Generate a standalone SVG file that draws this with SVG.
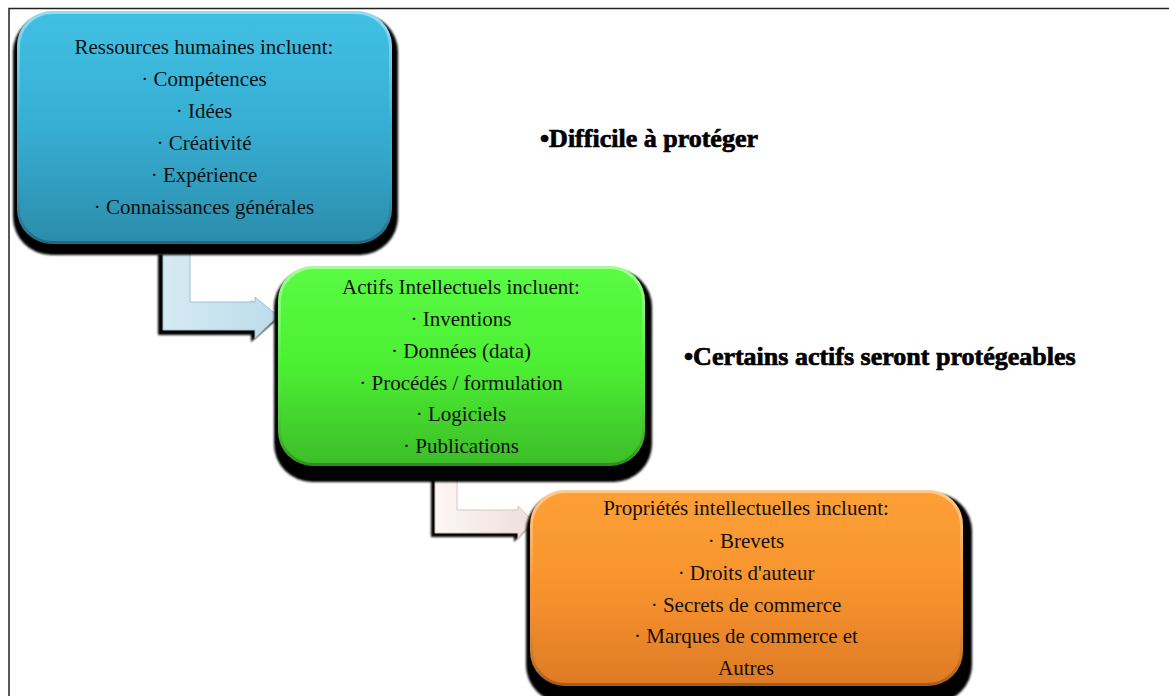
<svg xmlns="http://www.w3.org/2000/svg" width="1169" height="696" viewBox="0 0 1169 696">
<style>
.t{font-family:"Liberation Serif","Times New Roman",serif;font-size:21px;fill:#111;text-anchor:middle}
.b{font-family:"Liberation Serif","Times New Roman",serif;font-size:26px;font-weight:bold;fill:#000;stroke:#000;stroke-width:0.7}
.sh{fill:#000;filter:url(#blur)}
</style>
<defs>
<filter id="blur" x="-5%" y="-5%" width="110%" height="110%"><feGaussianBlur stdDeviation="1.2"/></filter>
<linearGradient id="gBlue" x1="0" y1="0" x2="0" y2="1"><stop offset="0" stop-color="#41c0e4"/><stop offset="0.5" stop-color="#37aed3"/><stop offset="1" stop-color="#2b8cab"/></linearGradient>
<linearGradient id="gGreen" x1="0" y1="0" x2="0" y2="1"><stop offset="0" stop-color="#5afb44"/><stop offset="0.5" stop-color="#4cef33"/><stop offset="1" stop-color="#3cbd28"/></linearGradient>
<linearGradient id="gOrange" x1="0" y1="0" x2="0" y2="1"><stop offset="0" stop-color="#fda036"/><stop offset="0.5" stop-color="#f7932e"/><stop offset="1" stop-color="#de7a24"/></linearGradient>
<linearGradient id="gEdge" x1="0" y1="0" x2="0" y2="1"><stop offset="0" stop-color="#fff" stop-opacity="0.45"/><stop offset="0.5" stop-color="#fff" stop-opacity="0"/><stop offset="1" stop-color="#000" stop-opacity="0.25"/></linearGradient>
<linearGradient id="gArrow1" x1="0" y1="0" x2="1" y2="0"><stop offset="0" stop-color="#d6ebf3"/><stop offset="1" stop-color="#bcdcea"/></linearGradient>
<linearGradient id="gArrow2" x1="0" y1="0" x2="1" y2="0"><stop offset="0" stop-color="#fdf6f5"/><stop offset="1" stop-color="#eddfdd"/></linearGradient>
</defs>
<rect width="1169" height="696" fill="#fff"/>
<path d="M9,696 V8.5 H1169" fill="none" stroke="#222" stroke-width="1.5"/>
<g id="connectors">
<g id="arrow1">
<path class="sh" d="M158,254 H186 V306 H251 V301 L275,321 L251,342 V335 H158 Z"/>
<path d="M163,250 H190 V302 H255 V297 L278,316 L255,338 V330 H163 Z" fill="url(#gArrow1)" stroke="#9cc3d4" stroke-width="1"/>
</g>
<g id="arrow2">
<path class="sh" d="M431,474 H453 V514 H514 V510 L530,525 L514,542 V537 H431 Z"/>
<path d="M435,470 H457 V510 H518 V506 L533,521 L518,538 V533 H435 Z" fill="url(#gArrow2)" stroke="#d8c4c2" stroke-width="1"/>
</g>
</g>
<g id="node1">
<rect class="sh" x="13" y="14" width="385" height="241" rx="38"/>
<rect x="17" y="11" width="375" height="233" rx="35" fill="url(#gBlue)"/>
<rect x="18.5" y="12.5" width="372" height="230" rx="34" fill="none" stroke="url(#gEdge)" stroke-width="3"/>
<text class="t" x="204" y="54">Ressources humaines incluent:</text>
<text class="t" x="204" y="86">· Compétences</text>
<text class="t" x="204" y="118">· Idées</text>
<text class="t" x="204" y="150">· Créativité</text>
<text class="t" x="204" y="182">· Expérience</text>
<text class="t" x="204" y="214">· Connaissances générales</text>
</g>
<g id="node2">
<rect class="sh" x="274" y="269" width="378" height="213" rx="38"/>
<rect x="278" y="266" width="367" height="200" rx="35" fill="url(#gGreen)"/>
<rect x="279.5" y="267.5" width="364" height="197" rx="34" fill="none" stroke="url(#gEdge)" stroke-width="3"/>
<text class="t" x="461" y="294">Actifs Intellectuels incluent:</text>
<text class="t" x="461" y="326">· Inventions</text>
<text class="t" x="461" y="358">· Données (data)</text>
<text class="t" x="461" y="390">· Procédés / formulation</text>
<text class="t" x="461" y="421">· Logiciels</text>
<text class="t" x="461" y="453">· Publications</text>
</g>
<g id="node3">
<rect class="sh" x="526" y="493" width="446" height="210" rx="38"/>
<rect x="530" y="490" width="433" height="196" rx="35" fill="url(#gOrange)"/>
<rect x="531.5" y="491.5" width="430" height="193" rx="34" fill="none" stroke="url(#gEdge)" stroke-width="3"/>
<text class="t" x="746" y="515">Propriétés intellectuelles incluent:</text>
<text class="t" x="746" y="548">· Brevets</text>
<text class="t" x="746" y="580">· Droits d'auteur</text>
<text class="t" x="746" y="612">· Secrets de commerce</text>
<text class="t" x="746" y="643">· Marques de commerce et</text>
<text class="t" x="746" y="675">Autres</text>
</g>
<g id="note1"><text class="b" x="540" y="147">•Difficile à protéger</text></g>
<g id="note2"><text class="b" x="684" y="365">•Certains actifs seront protégeables</text></g>
</svg>
